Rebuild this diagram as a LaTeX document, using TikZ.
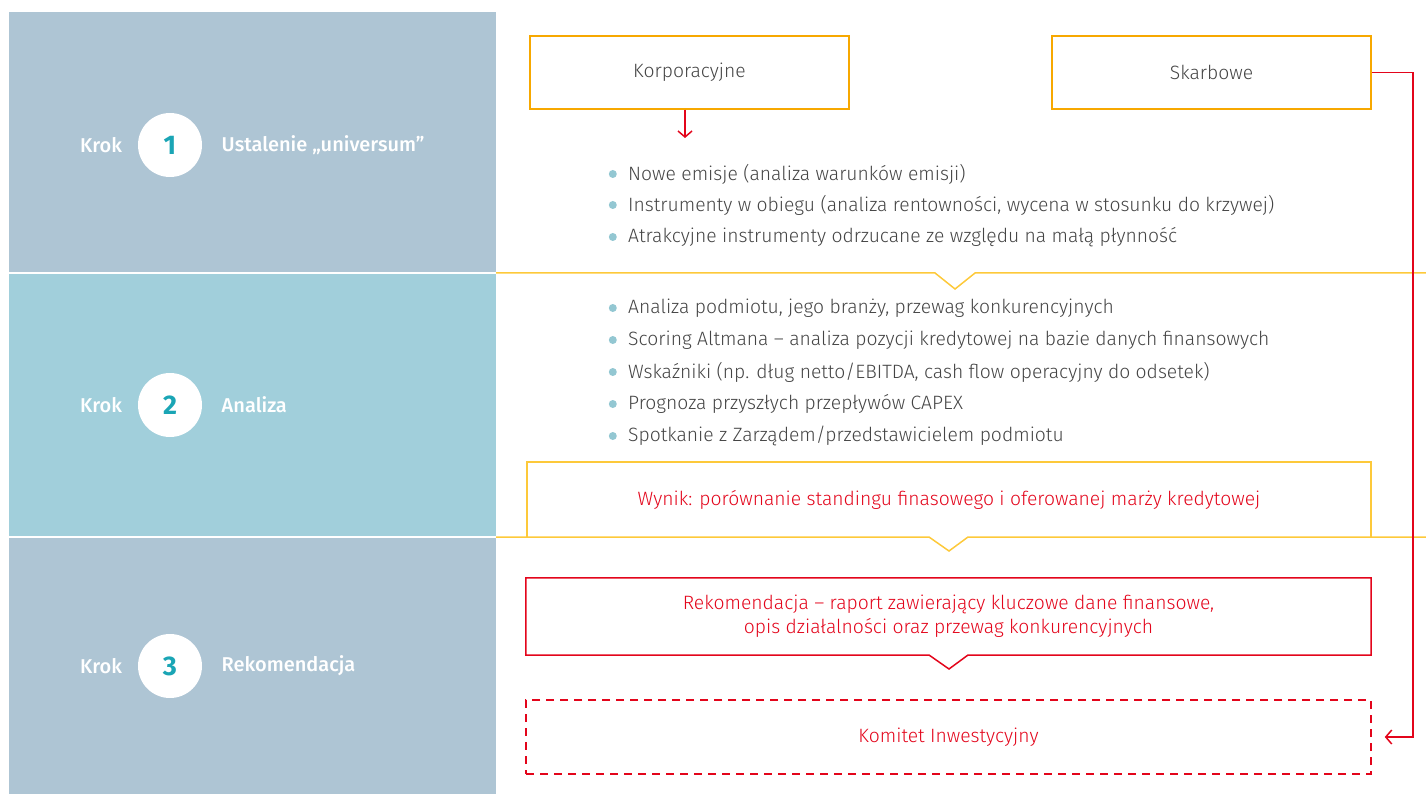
\documentclass[tikz,border=0pt]{standalone}
\usepackage{fontspec}
\setmainfont{Fira Sans}[UprightFont=* Light,BoldFont=* Medium]
\newfontfamily\numfont{Fira Sans Bold}
\usetikzlibrary{positioning,arrows.meta}
\definecolor{panelgray}{HTML}{AEC5D4}
\definecolor{panelteal}{HTML}{A1CFDB}
\definecolor{numteal}{HTML}{1AA5B5}
\definecolor{dotteal}{HTML}{93C7D2}
\definecolor{boxorange}{HTML}{F7A800}
\definecolor{lineyellow}{HTML}{FDC93A}
\definecolor{santred}{HTML}{E3051B}
\definecolor{textgray}{HTML}{444444}
\tikzset{
  kroklabel/.style={text=white,font=\bfseries\fontsize{20}{22}\selectfont},
  numcircle/.style={circle,fill=white,minimum size=64pt,inner sep=0pt,text=numteal,font=\numfont\fontsize{27}{27}\selectfont},
  orangebox/.style={draw=boxorange,line width=1.5pt,minimum width=319pt,minimum height=73pt,text=textgray},
  bullet/.style={anchor=west,inner sep=0pt,text=textgray,
    label={[circle,fill=dotteal,inner sep=0pt,minimum size=8pt,label distance=11pt]left:{}}},
  yellowline/.style={draw=lineyellow,line width=1.5pt},
  redtext/.style={text=santred,align=center},
  redarrow/.style={draw=santred,line width=1.5pt,-{Straight Barb[length=6pt,width=14pt,line width=1.5pt]}}
}
\begin{document}
\begin{tikzpicture}[x=1pt,y=-1pt,font=\fontsize{19.3}{24}\selectfont]
\useasboundingbox (0,0) rectangle (1426,794);

\fill[panelgray] (9,12) rectangle (496,272);
\fill[panelteal] (9,274) rectangle (496,536);
\fill[panelgray] (9,538) rectangle (496,794);

\node[kroklabel] (krok1) at (101,145) {Krok};
\node[numcircle] (num1) at (170,145) {1};
\node[kroklabel,anchor=west,right=16pt of num1] (title1) {Ustalenie „universum”};

\node[kroklabel] (krok2) at (101,405) {Krok};
\node[numcircle] (num2) at (170,405) {2};
\node[kroklabel,anchor=west,right=16pt of num2] (title2) {Analiza};

\node[kroklabel] (krok3) at (101,666) {Krok};
\node[numcircle] (num3) at (170,666) {3};
\node[kroklabel,anchor=west,right=16pt of num3] (title3) {Rekomendacja};

\node[orangebox] (korp) at (689.5,72.5) {Korporacyjne};
\node[orangebox] (skarb) at (1211.5,72.5) {Skarbowe};
\coordinate (korpend) at (685,138);
\draw[redarrow] (korp.south -| korpend) -- (korpend);

\node[bullet] (b11) at (628,174) {Nowe emisje (analiza warunków emisji)};
\node[bullet] (b12) at (628,205) {Instrumenty w obiegu (analiza rentowności, wycena w stosunku do krzywej)};
\node[bullet] (b13) at (628,237) {Atrakcyjne instrumenty odrzucane ze względu na małą płynność};

\draw[yellowline] (496,273) -- (935,273) -- (955,289) -- (975,273) -- (1426,273);

\node[bullet] (b21) at (628,308) {Analiza podmiotu, jego branży, przewag konkurencyjnych};
\node[bullet] (b22) at (628,340) {Scoring Altmana – analiza pozycji kredytowej na bazie danych finansowych};
\node[bullet] (b23) at (628,372) {Wskaźniki (np. dług netto/EBITDA, cash flow operacyjny do odsetek)};
\node[bullet] (b24) at (628,404) {Prognoza przyszłych przepływów CAPEX};
\node[bullet] (b25) at (628,436) {Spotkanie z Zarządem/przedstawicielem podmiotu};

\node[redtext,minimum width=844pt,minimum height=75pt] (wynik) at (949,499.5) {Wynik: porównanie standingu finasowego i oferowanej marży kredytowej};
\draw[yellowline] (wynik.south west) |- (wynik.north east) -- (wynik.south east);
\draw[yellowline] (496,537) -- (929,537) -- (949,551) -- (968,537) -- (1426,537);

\node[redtext,minimum width=845pt,minimum height=77pt] (rekom) at (948.5,616.5) {Rekomendacja – raport zawierający kluczowe dane finansowe,\\opis działalności oraz przewag konkurencyjnych};
\draw[santred,line width=1.5pt] (rekom.south west) |- (rekom.north east) |- (968,655) -- (949,669) -- (929,655) -- cycle;

\node[redtext,draw=santred,line width=1.5pt,dash pattern=on 8pt off 6pt,minimum width=845pt,minimum height=74pt] (komitet) at (948.5,737) {Komitet Inwestycyjny};

\draw[redarrow,shorten >=13pt] (skarb.east) -- (1413,72.5) |- (komitet.east);
\end{tikzpicture}
\end{document}
